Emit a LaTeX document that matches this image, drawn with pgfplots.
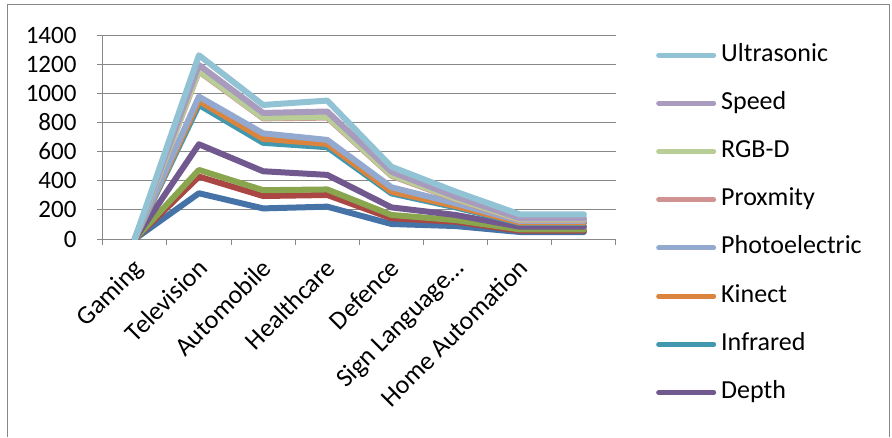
\documentclass[border=0pt]{standalone}
\usepackage{fontspec}
\setmainfont{Carlito}
\usepackage{pgfplots}
\pgfplotsset{compat=1.18}
\definecolor{axgray}{HTML}{888888}
\definecolor{cA}{HTML}{4572A7}
\definecolor{cB}{HTML}{AA4643}
\definecolor{cC}{HTML}{89A54E}
\definecolor{cDepth}{HTML}{71588F}
\definecolor{cInfra}{HTML}{4198AF}
\definecolor{cKinect}{HTML}{DB843D}
\definecolor{cPhoto}{HTML}{93A9CF}
\definecolor{cProx}{HTML}{D19392}
\definecolor{cRGBD}{HTML}{B9CD96}
\definecolor{cSpeed}{HTML}{A99BBD}
\definecolor{cUltra}{HTML}{91C3D5}
\begin{document}
\begin{tikzpicture}
\useasboundingbox (-102.7pt,-198pt) rectangle (789.3pt,239pt);
\draw[axgray, line width=1pt] (-94.7pt,-198pt) -- (-94.7pt,234pt) -- (786.3pt,234pt) -- (786.3pt,-198pt);
\begin{axis}[
  at={(0pt,0pt)}, anchor=south west,
  scale only axis, width=513.3pt, height=204pt,
  xmin=-0.5, xmax=7.5, ymin=0, ymax=1400,
  axis x line*=bottom, axis y line*=left,
  axis line style={draw=axgray, line width=1pt},
  tick style={draw=axgray, line width=1pt},
  tick align=outside, major tick length=6pt,
  ytick={0,200,...,1400},
  ymajorgrids, grid style={draw=axgray, line width=1pt},
  xtick={-0.5,0.5,...,7.5}, xticklabels={},
  extra x ticks={0,1,2,3,4,5,6},
  extra x tick labels={Gaming,Television,Automobile,Healthcare,Defence,{Sign Language…},Home Automation},
  extra x tick style={major tick length=0pt, grid=none,
     xticklabel style={xshift=-3pt, yshift=-18pt, rotate=45, anchor=north east, inner sep=0pt,
        font=\fontsize{26}{30}\selectfont}},
  /pgf/number format/assume math mode=true,
  /pgf/number format/1000 sep={},
  tick label style={font=\fontsize{25}{30}\selectfont},
  yticklabel style={anchor=east, inner sep=0pt, xshift=-20pt},
  every axis plot/.append style={line width=6pt, line join=round, line cap=round, mark=none},
  legend image code/.code={\draw[#1, line width=5pt] (0pt,0pt) -- (55pt,0pt);},
  reverse legend,
  legend cell align=left,
  legend style={at={(1.0779,0.961)}, anchor=north west, draw=none, fill=none, inner sep=0pt,
     font=\fontsize{26}{30}\selectfont, row sep=24.2pt, column sep=5pt,
     nodes={inner sep=0pt, text height=18pt, text depth=6pt}},
]
\addplot[cA, forget plot] coordinates {(0,0) (1,314) (2,210) (3,222) (4,103) (5,89) (6,48) (7,48)};
\addplot[cB, forget plot] coordinates {(0,0) (1,428) (2,295) (3,302) (4,142) (5,119) (6,57) (7,57)};
\addplot[cC, forget plot] coordinates {(0,0) (1,474) (2,335) (3,340) (4,165) (5,130) (6,66) (7,66)};
\addplot[cDepth] coordinates {(0,0) (1,650) (2,465) (3,440) (4,217) (5,165) (6,85) (7,85)};
\addlegendentry{Depth}
\addplot[cInfra] coordinates {(0,0) (1,920) (2,660) (3,630) (4,313) (5,217) (6,110) (7,110)};
\addlegendentry{Infrared}
\addplot[cKinect] coordinates {(0,0) (1,947) (2,688) (3,652) (4,325) (5,226) (6,114) (7,114)};
\addlegendentry{Kinect}
\addplot[cPhoto] coordinates {(0,0) (1,977) (2,725) (3,680) (4,355) (5,245) (6,124) (7,124)};
\addlegendentry{Photoelectric}
\addplot[cProx] coordinates {(0,0) (1,1150) (2,828) (3,833) (4,434) (5,272) (6,131) (7,131)};
\addlegendentry{Proxmity}
\addplot[cRGBD] coordinates {(0,0) (1,1155) (2,832) (3,838) (4,439) (5,277) (6,135) (7,135)};
\addlegendentry{RGB-D}
\addplot[cSpeed] coordinates {(0,0) (1,1194) (2,865) (3,875) (4,462) (5,290) (6,142) (7,142)};
\addlegendentry{Speed}
\addplot[cUltra] coordinates {(0,0) (1,1261) (2,920) (3,950) (4,496) (5,325) (6,169) (7,169)};
\addlegendentry{Ultrasonic}
\end{axis}
\end{tikzpicture}
\end{document}
